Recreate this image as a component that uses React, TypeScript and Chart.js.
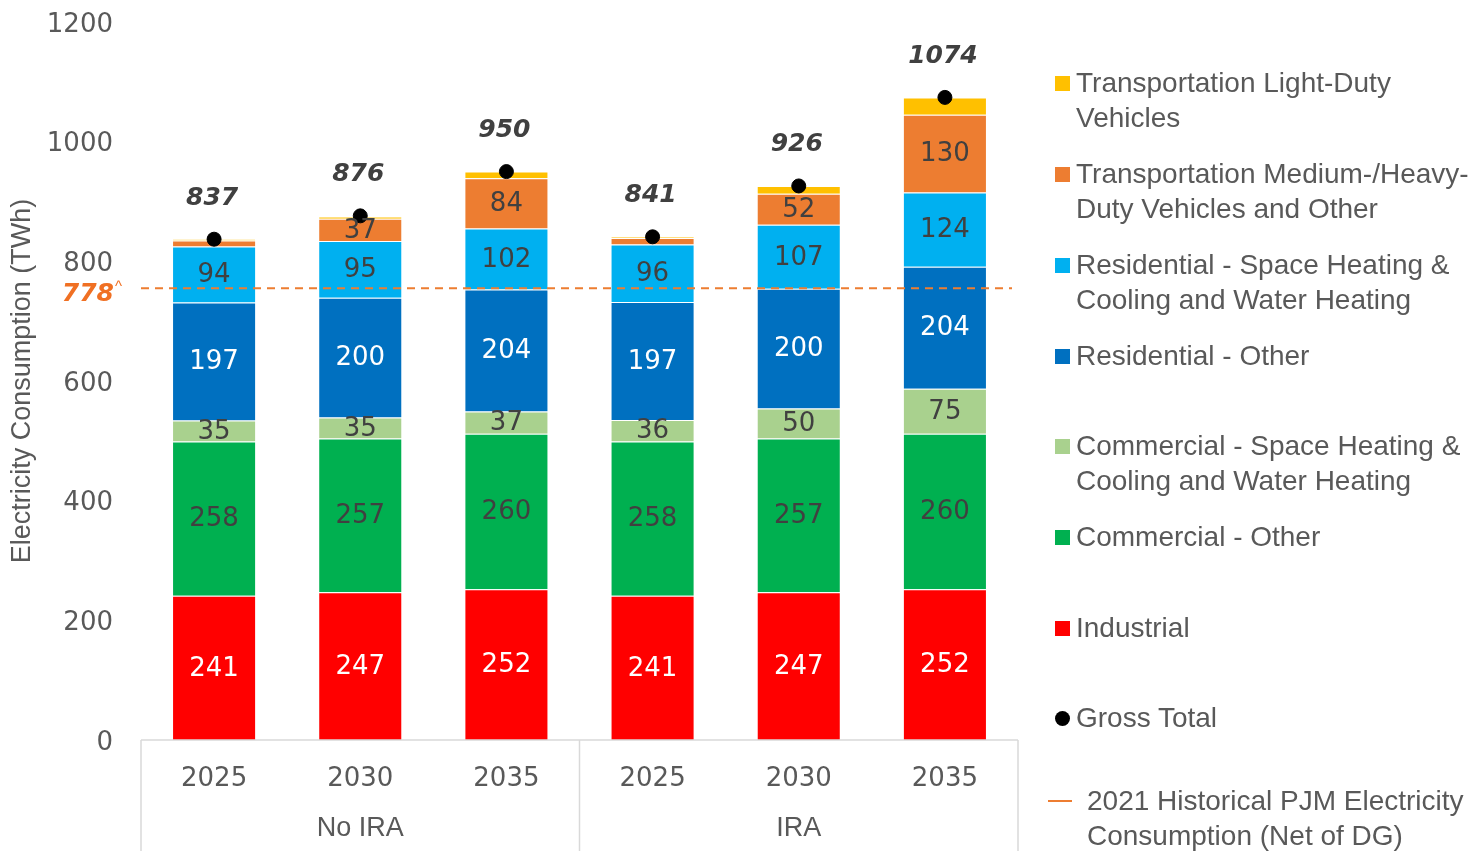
import React, { useEffect, useRef } from "react";
import { Chart, registerables } from "chart.js";

Chart.register(...registerables);

const categories = ["2025", "2030", "2035", "2025", "2030", "2035"];
const groups = ["No IRA", "IRA"];
const industrial = [241, 247, 252, 241, 247, 252];
const commercialOther = [258, 257, 260, 258, 257, 260];
const commercialSpace = [35, 35, 37, 36, 50, 75];
const residentialOther = [197, 200, 204, 197, 200, 204];
const residentialSpace = [94, 95, 102, 96, 107, 124];
const transportMHD = [10, 37, 84, 11, 52, 130];
const transportLDV = [2, 4, 11, 2, 13, 29];
const grossTotal = [837, 876, 950, 841, 926, 1074];
// the reference line is labelled 778 but is plotted at about 755 on the axis
const historicalLabel = "778";
const historicalPlotted = 755;
const yTicks = [0, 200, 400, 600, 800, 1000, 1200];

const FONT = "'Liberation Sans', Arial, sans-serif";
const NUMFONT = "'DejaVu Sans', sans-serif";
const GRAY = "#595959";
const DARK = "#404040";

const legendItems = [
  { label: "Transportation Light-Duty\nVehicles", color: "#FFC000", kind: "box" },
  { label: "Transportation Medium-/Heavy-\nDuty Vehicles and Other", color: "#ED7D31", kind: "box" },
  { label: "Residential - Space Heating &\nCooling and Water Heating", color: "#00B0F0", kind: "box" },
  { label: "Residential - Other", color: "#0070C0", kind: "box" },
  { label: "Commercial - Space Heating &\nCooling and Water Heating", color: "#A9D18E", kind: "box" },
  { label: "Commercial - Other", color: "#00B050", kind: "box" },
  { label: "Industrial", color: "#FF0000", kind: "box" },
  { label: "Gross Total", color: "#000000", kind: "dot" },
  { label: "2021 Historical PJM Electricity\nConsumption (Net of DG)", color: "#ED7D31", kind: "line" },
];

export default function App() {
  const ref = useRef<HTMLCanvasElement>(null);

  useEffect(() => {
    if (!ref.current) return;
    const barDs = (label: string, data: number[], color: string, labelColor: string | null) => ({
      type: "bar" as const,
      label,
      data,
      backgroundColor: color,
      borderColor: "rgba(255,255,255,0.45)",
      borderWidth: 1,
      stack: "s",
      order: 1,
      barPercentage: 0.575,
      categoryPercentage: 1,
      labelColor,
    });

    const labelsPlugin = {
      id: "customDraw",
      afterDatasetsDraw(chart: any) {
        const ctx = chart.ctx;
        const { left, right, bottom } = chart.chartArea;
        const y = chart.scales.y;
        const x = chart.scales.x;
        ctx.save();
        // segment labels
        chart.data.datasets.forEach((ds: any, i: number) => {
          if (ds.type !== "bar" || !ds.labelColor) return;
          const meta = chart.getDatasetMeta(i);
          meta.data.forEach((el: any, j: number) => {
            const v = ds.data[j];
            if (v < 20) return;
            ctx.fillStyle = ds.labelColor;
            ctx.font = `26px ${NUMFONT}`;
            ctx.textAlign = "center";
            ctx.textBaseline = "middle";
            ctx.fillText(String(v), el.x, (el.y + el.base) / 2 + 1);
          });
        });
        // total labels
        const totIdx = chart.data.datasets.findIndex((d: any) => d.type === "line");
        const tmeta = chart.getDatasetMeta(totIdx);
        tmeta.data.forEach((el: any, j: number) => {
          ctx.fillStyle = DARK;
          ctx.font = `italic bold 25px ${NUMFONT}`;
          ctx.textAlign = "center";
          ctx.textBaseline = "middle";
          ctx.fillText(String(grossTotal[j]), el.x - 2, el.y - 41);
        });
        // historical dashed line
        const hy = y.getPixelForValue(historicalPlotted);
        ctx.strokeStyle = "#ED7D31";
        ctx.lineWidth = 1.8;
        ctx.setLineDash([8, 6]);
        ctx.beginPath();
        ctx.moveTo(left, hy);
        ctx.lineTo(right - 6, hy);
        ctx.stroke();
        ctx.setLineDash([]);
        ctx.fillStyle = "#F07023";
        ctx.font = `italic bold 25px ${NUMFONT}`;
        ctx.textAlign = "right";
        ctx.textBaseline = "middle";
        ctx.fillText(historicalLabel, 114, hy + 6);
        ctx.font = `15px ${FONT}`;
        ctx.textAlign = "left";
        ctx.fillText("^", 115, hy - 1);
        // axis line and group separators
        ctx.strokeStyle = "#D9D9D9";
        ctx.lineWidth = 1.5;
        ctx.beginPath();
        ctx.moveTo(left, bottom);
        ctx.lineTo(right, bottom);
        const mid = (x.getPixelForValue(2) + x.getPixelForValue(3)) / 2;
        [left, mid, right].forEach((px) => {
          ctx.moveTo(px, bottom);
          ctx.lineTo(px, chart.height);
        });
        ctx.stroke();
        ctx.fillStyle = GRAY;
        ctx.font = `27px ${FONT}`;
        ctx.textAlign = "center";
        ctx.textBaseline = "middle";
        ctx.fillText(groups[0], (left + mid) / 2, 829);
        ctx.fillText(groups[1], (mid + right) / 2, 829);
        ctx.restore();
      },
    };

    const chart = new Chart(ref.current, {
      type: "bar",
      data: {
        labels: categories,
        datasets: [
          {
            type: "line" as const,
            label: "Gross Total",
            data: grossTotal,
            showLine: false,
            pointRadius: 7,
            pointBackgroundColor: "#000",
            pointBorderColor: "#000",
            stack: "total",
            order: 0,
          } as any,
          barDs("Industrial", industrial, "#FF0000", "#FFFFFF"),
          barDs("Commercial - Other", commercialOther, "#00B050", DARK),
          barDs("Commercial - Space Heating & Cooling and Water Heating", commercialSpace, "#A9D18E", DARK),
          barDs("Residential - Other", residentialOther, "#0070C0", "#FFFFFF"),
          barDs("Residential - Space Heating & Cooling and Water Heating", residentialSpace, "#00B0F0", DARK),
          barDs("Transportation Medium-/Heavy-Duty Vehicles and Other", transportMHD, "#ED7D31", DARK),
          barDs("Transportation Light-Duty Vehicles", transportLDV, "#FFC000", null),
        ] as any,
      },
      options: {
        animation: false,
        responsive: false,
        maintainAspectRatio: false,
        layout: { padding: { left: 0, right: 453, top: 22, bottom: 0 } },
        plugins: { legend: { display: false }, tooltip: { enabled: false } },
        scales: {
          x: {
            stacked: true,
            grid: { display: false, drawTicks: false },
            border: { display: false },
            ticks: { color: GRAY, font: { family: NUMFONT, size: 26 }, padding: 24 },
            afterFit: (s: any) => {
              s.height = 111;
            },
          },
          y: {
            stacked: true,
            min: 0,
            max: 1200,
            afterBuildTicks: (s: any) => {
              s.ticks = yTicks.map((v) => ({ value: v }));
            },
            grid: { display: false, drawTicks: false },
            border: { display: false },
            ticks: {
              color: GRAY,
              font: { family: NUMFONT, size: 26 },
              padding: 28,
              labelOffset: 3,
              callback: (v: any) => String(v),
            },
            title: {
              display: true,
              text: "Electricity Consumption (TWh)",
              color: GRAY,
              font: { family: FONT, size: 27 },
              padding: { top: 6, bottom: 0 },
            },
            afterFit: (s: any) => {
              s.width = 141;
              s.paddingTop = 0;
              s.paddingBottom = 0;
            },
          },
        },
      },
      plugins: [labelsPlugin],
    });
    return () => chart.destroy();
  }, []);

  const legendTops = [82, 173, 264, 355, 445, 536, 627, 717, 800];

  return (
    <div style={{ position: "fixed", left: 0, top: 0, width: 1471, height: 851, background: "#fff", overflow: "hidden" }}>
      <canvas ref={ref} width={1471} height={851} style={{ position: "absolute", left: 0, top: 0, width: 1471, height: 851 }} />
      {legendItems.map((it, i) => {
        const lines = it.label.split("\n");
        const top = legendTops[i] - 17.5;
        const textLeft = it.kind === "line" ? 1087 : 1076;
        return (
          <div key={i} style={{ position: "absolute", left: 0, top, width: 1471, height: 0 }}>
            {it.kind === "box" && (
              <div style={{ position: "absolute", left: 1055, top: 11, width: 15, height: 15, background: it.color }} />
            )}
            {it.kind === "dot" && (
              <div style={{ position: "absolute", left: 1055, top: 11, width: 15, height: 15, borderRadius: "50%", background: it.color }} />
            )}
            {it.kind === "line" && (
              <div style={{ position: "absolute", left: 1048, top: 17, width: 24, height: 2, background: it.color }} />
            )}
            <div
              style={{
                position: "absolute",
                left: textLeft,
                top: 0,
                whiteSpace: "nowrap",
                font: `28px ${FONT}`,
                lineHeight: "35px",
                color: GRAY,
              }}
            >
              {lines.map((l, k) => (
                <div key={k}>{l}</div>
              ))}
            </div>
          </div>
        );
      })}
    </div>
  );
}
